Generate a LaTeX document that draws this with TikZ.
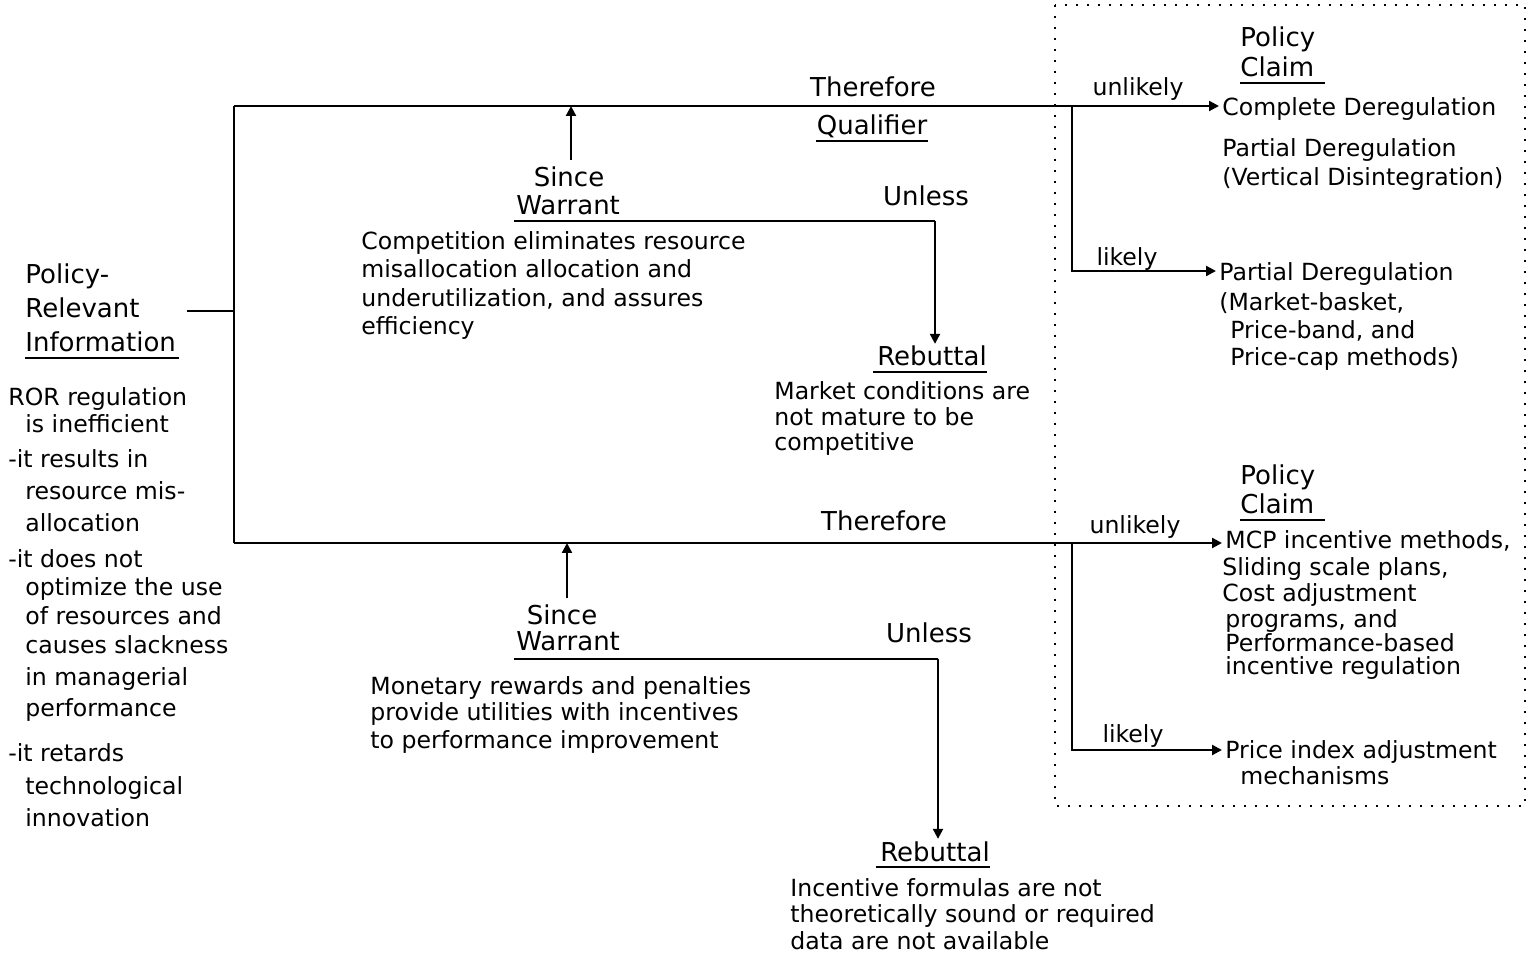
\documentclass[tikz,border=0pt]{standalone}
\usepackage{fontspec}
\setmainfont{DejaVu Sans}
\usetikzlibrary{arrows.meta}
\newcommand\bodyf{\fontsize{11.8}{14}\selectfont}
\newcommand\headf{\fontsize{13}{16}\selectfont}
\tikzset{
  txt/.style={inner sep=0pt, anchor=base west, font=\bodyf},
  ctxt/.style={inner sep=0pt, anchor=base, font=\bodyf},
  hd/.style={inner sep=0pt, anchor=base, font=\headf},
  hdl/.style={inner sep=0pt, anchor=base west, font=\headf},
  ln/.style={line width=1.1pt},
  arr/.style={line width=1.1pt, -{Triangle[length=5pt,width=5pt]}},
  ul/.style={line width=0.9pt},
  dotbox/.style={line width=1.1pt, dash pattern=on 1.1pt off 4.4pt},
}
\begin{document}
\begin{tikzpicture}[x=0.5pt,y=-0.5pt]
\useasboundingbox (0,0) rectangle (1531,961);

% dotted claim box
\draw[dotbox] (1055,5) rectangle (1525,806);

% frame coordinates
\coordinate (ftl) at (234,106);
\coordinate (fbl) at (234,543);
\coordinate (fml) at (234,311);
\coordinate (pl) at (187,311);
\coordinate (b1) at (1072,106);
\coordinate (b1d) at (1072,271);
\coordinate (b2) at (1072,543);
\coordinate (b2d) at (1072,750);

% left column
\node[hdl] (pri1) at (25,284) {Policy-};
\node[hdl] (pri2) at (25,318) {Relevant};
\node[hdl] (pri3) at (25,352) {Information};
\draw[ul] ([yshift=-3pt]pri3.base west) -- ([yshift=-3pt,xshift=1.5pt]pri3.base east);
\node[txt] (l1) at (8,406) {ROR regulation};
\node[txt] (l2) at (25,433) {is inefficient};
\node[txt] (l3) at (8,468) {-it results in};
\node[txt] (l4) at (25,500) {resource mis-};
\node[txt] (l5) at (25,532) {allocation};
\node[txt] (l6) at (8,568) {-it does not};
\node[txt] (l7) at (25,596) {optimize the use};
\node[txt] (l8) at (25,625) {of resources and};
\node[txt] (l9) at (25,654) {causes slackness};
\node[txt] (l10) at (25,686) {in managerial};
\node[txt] (l11) at (25,717) {performance};
\node[txt] (l12) at (8,762) {-it retards};
\node[txt] (l13) at (25,794) {technological};
\node[txt] (l14) at (25,826) {innovation};

% frame
\draw[ln] (pl) -- (fml);
\draw[ln] (ftl) -- (fbl);

% top argument
\node[hd] (th1) at (873,97) {Therefore};
\node[hd] (qual) at (872,135) {Qualifier};
\draw[ul] ([yshift=-3pt]qual.base west) -- ([yshift=-3pt]qual.base east);
\node[hd] (since1) at (569,187) {Since};
\node[hdl] (war1) at (516,215) {Warrant};
\coordinate (w1a) at (571,160);
\coordinate (wl1s) at (514,221);
\coordinate (wl1e) at (935,221);
\node[hd] (unl1) at (926,206) {Unless};
\node[txt] (wt1) at (361,250) {Competition eliminates resource};
\node[txt] (wt2) at (361,278) {misallocation allocation and};
\node[txt] (wt3) at (361,307) {underutilization, and assures};
\node[txt] (wt4) at (361,335) {efficiency};
\node[hd] (rb1) at (932,366) {Rebuttal};
\draw[ul] ([yshift=-3pt,xshift=-2pt]rb1.base west) -- ([yshift=-3pt]rb1.base east);
\node[txt] (rt1) at (774,400) {Market conditions are};
\node[txt] (rt2) at (774,426) {not mature to be};
\node[txt] (rt3) at (774,451) {competitive};

\draw[arr] (w1a) -- (w1a |- ftl);
\draw[ln] (wl1s) -- (wl1e);
\draw[arr] (wl1e) -- ([yshift=1pt]wl1e |- rb1.north);

% bottom argument
\node[hd] (th2) at (884,531) {Therefore};
\node[hd] (since2) at (562,625) {Since};
\node[hdl] (war2) at (516,651) {Warrant};
\coordinate (w2a) at (567,598);
\coordinate (wl2s) at (514,659);
\coordinate (wl2e) at (938,659);
\node[hd] (unl2) at (929,643) {Unless};
\node[txt] (mt1) at (370,695) {Monetary rewards and penalties};
\node[txt] (mt2) at (370,721) {provide utilities with incentives};
\node[txt] (mt3) at (370,748) {to performance improvement};
\node[hd] (rb2) at (935,861) {Rebuttal};
\draw[ul] ([yshift=-3pt,xshift=-2pt]rb2.base west) -- ([yshift=-3pt]rb2.base east);
\node[txt] (it1) at (790,896) {Incentive formulas are not};
\node[txt] (it2) at (790,922) {theoretically sound or required};
\node[txt] (it3) at (790,949) {data are not available};

\draw[arr] (w2a) -- (w2a |- fbl);
\draw[ln] (wl2s) -- (wl2e);
\draw[arr] (wl2e) -- ([yshift=1pt]wl2e |- rb2.north);

% top claims
\node[hdl] (pc1a) at (1240,47) {Policy};
\node[hdl] (pc1b) at (1240,77) {Claim};
\draw[ul] ([yshift=-3pt]pc1b.base west) -- ([yshift=-3pt,xshift=5pt]pc1b.base east);
\node[ctxt] (unlk1) at (1138,96) {unlikely};
\node[txt] (cd) at (1222,116) {Complete Deregulation};
\node[txt] (pd1) at (1222,157) {Partial Deregulation};
\node[txt] (pd1b) at (1222,186) {(Vertical Disintegration)};
\node[ctxt] (lk1) at (1127,266) {likely};
\node[txt] (pd2) at (1219,281) {Partial Deregulation};
\node[txt] (pd2b) at (1219,311) {(Market-basket,};
\node[txt] (pd2c) at (1230,339) {Price-band, and};
\node[txt] (pd2d) at (1230,366) {Price-cap methods)};

\draw[ln] (ftl) -- (b1);
\draw[arr] (b1) -- ([xshift=-1.5pt]cd.west |- b1);
\draw[arr] (b1) -- (b1d) -- ([xshift=-1.5pt]pd2.west |- b1d);

% bottom claims
\node[hdl] (pc2a) at (1240,485) {Policy};
\node[hdl] (pc2b) at (1240,514) {Claim};
\draw[ul] ([yshift=-3pt]pc2b.base west) -- ([yshift=-3pt,xshift=5pt]pc2b.base east);
\node[ctxt] (unlk2) at (1135,534) {unlikely};
\node[txt] (mcp1) at (1225,549) {MCP incentive methods,};
\node[txt] (mcp2) at (1222,576) {Sliding scale plans,};
\node[txt] (mcp3) at (1222,602) {Cost adjustment};
\node[txt] (mcp4) at (1225,628) {programs, and};
\node[txt] (mcp5) at (1225,652) {Performance-based};
\node[txt] (mcp6) at (1225,675) {incentive regulation};
\node[ctxt] (lk2) at (1133,742) {likely};
\node[txt] (pi1) at (1225,759) {Price index adjustment};
\node[txt] (pi2) at (1240,784) {mechanisms};

\draw[ln] (fbl) -- (b2);
\draw[arr] (b2) -- ([xshift=-1.5pt]mcp1.west |- b2);
\draw[arr] (b2) -- (b2d) -- ([xshift=-1.5pt]pi1.west |- b2d);

\end{tikzpicture}
\end{document}
